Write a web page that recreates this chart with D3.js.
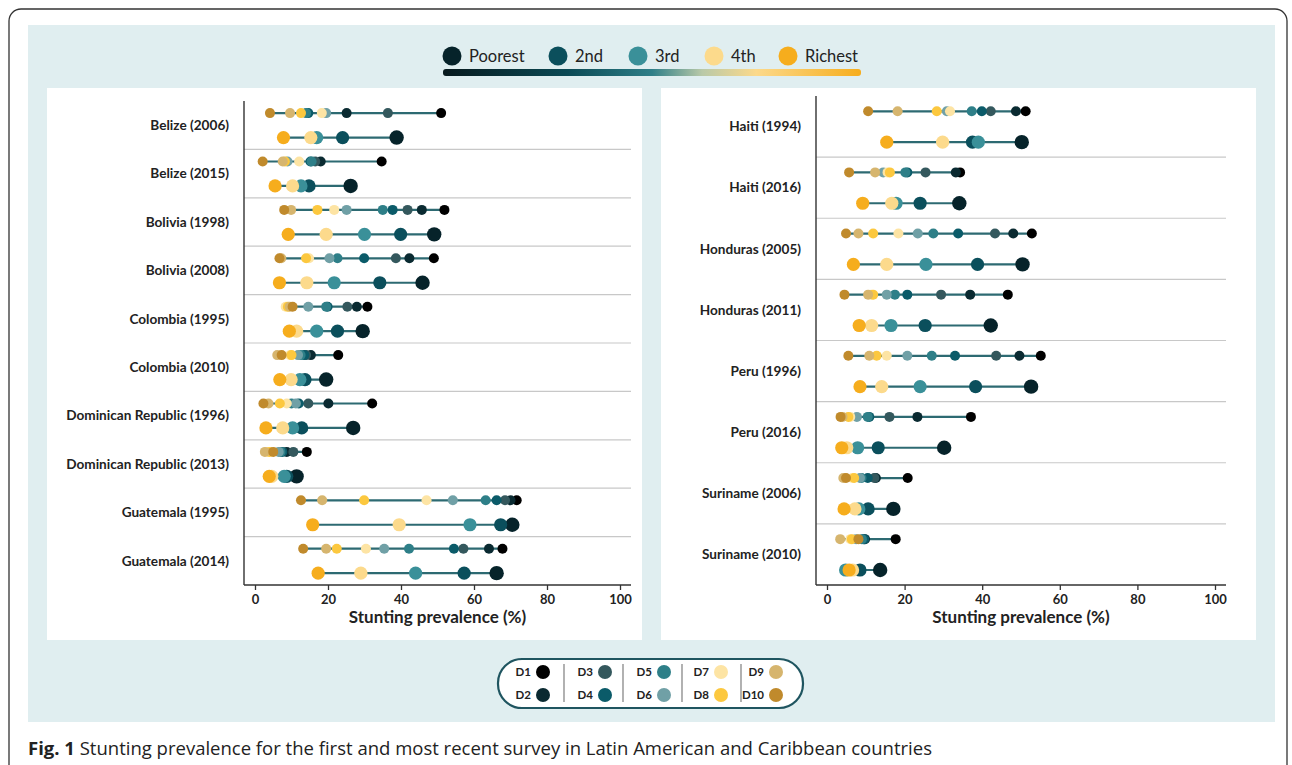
<!DOCTYPE html>
<html>
<head>
<meta charset="utf-8">
<script src="https://cdn.jsdelivr.net/npm/d3@7"></script>
<style>
  html, body { margin: 0; padding: 0; background: #ffffff; }
  svg { display: block; }
</style>
</head>
<body>
<svg id="chart" width="1292" height="765"></svg>
<script>
// ---------------- DATA ----------------
const leftSurveys = ["Belize (2006)", "Belize (2015)", "Bolivia (1998)", "Bolivia (2008)", "Colombia (1995)",
  "Colombia (2010)", "Dominican Republic (1996)", "Dominican Republic (2013)", "Guatemala (1995)", "Guatemala (2014)"];
// deciles D1 (poorest) .. D10 (richest)
const leftDeciles = [
  [51.0, 25.1, 36.4, 14.6, 14.0, 19.5, 18.3, 12.6, 9.6, 4.1],
  [34.7, 18.0, 16.5, 15.2, 15.5, 8.9, 12.1, 8.2, 7.6, 2.1],
  [51.9, 45.7, 41.8, 37.7, 35.0, 25.1, 21.7, 17.1, 9.9, 8.0],
  [49.0, 42.3, 38.6, 29.9, 22.6, 20.4, 14.8, 14.0, 7.2, 6.7],
  [30.8, 27.9, 25.3, 19.9, 19.5, 14.6, 8.4, 9.0, 9.5, 10.3],
  [22.8, 15.3, 14.0, 13.5, 12.5, 11.8, 9.6, 10.0, 6.1, 7.3],
  [32.1, 20.1, 14.6, 12.0, 10.0, 11.2, 8.7, 6.8, 3.7, 2.3],
  [14.2, 8.7, 10.5, 7.5, 7.0, 6.5, 3.5, 4.0, 2.7, 5.0],
  [71.7, 70.0, 68.5, 66.2, 63.2, 54.2, 47.0, 29.9, 18.4, 12.6],
  [67.8, 64.1, 57.1, 54.5, 42.2, 35.4, 30.4, 22.4, 19.5, 13.2]
];
// quintiles Poorest, 2nd, 3rd, 4th, Richest
const leftQuintiles = [
  [38.8, 24.0, 16.9, 15.3, 7.8],
  [26.2, 14.8, 12.6, 10.3, 5.5],
  [49.1, 39.9, 30.0, 19.5, 9.1],
  [45.9, 34.2, 21.7, 14.2, 6.7],
  [29.5, 22.6, 16.9, 11.4, 9.4],
  [19.5, 13.7, 12.3, 9.9, 6.8],
  [26.9, 12.8, 10.3, 7.6, 3.0],
  [11.4, 8.7, 8.0, 4.6, 3.9],
  [70.5, 67.3, 58.9, 39.5, 15.8],
  [66.2, 57.3, 44.0, 29.0, 17.3]
];

const rightSurveys = ["Haiti (1994)", "Haiti (2016)", "Honduras (2005)", "Honduras (2011)", "Peru (1996)",
  "Peru (2016)", "Suriname (2006)", "Suriname (2010)"];
const rightDeciles = [
  [51.2, 48.7, 42.2, 39.9, 37.3, 30.9, 31.7, 28.3, 18.2, 10.6],
  [34.3, 33.2, 25.4, 20.7, 20.2, 14.5, 15.6, 16.2, 12.4, 5.7],
  [52.8, 48.0, 43.3, 33.8, 27.4, 23.4, 18.4, 11.9, 8.1, 4.9],
  [46.6, 36.9, 29.4, 20.7, 17.5, 15.4, 11.4, 11.9, 10.6, 4.5],
  [55.1, 49.6, 43.6, 33.0, 27.0, 20.7, 15.4, 12.8, 10.9, 5.5],
  [37.1, 23.3, 16.1, 10.9, 10.5, 7.7, 6.0, 5.5, 4.0, 3.5],
  [20.8, 12.6, 12.2, 10.5, 8.9, 8.5, 6.5, 7.0, 4.2, 4.9],
  [17.7, 9.8, 9.4, 9.6, 9.0, 7.5, 6.0, 6.4, 3.4, 8.1]
];
const rightQuintiles = [
  [50.2, 37.5, 39.0, 29.8, 15.4],
  [34.1, 24.0, 17.8, 16.7, 9.2],
  [50.4, 38.8, 25.5, 15.4, 6.8],
  [42.2, 25.3, 16.5, 11.5, 8.3],
  [52.6, 38.3, 24.0, 14.1, 8.5],
  [30.2, 13.2, 7.9, 5.1, 3.8],
  [17.1, 10.6, 8.2, 7.2, 4.4],
  [13.7, 8.5, 4.8, 6.6, 5.7]
];

const quintileNames = ["Poorest", "2nd", "3rd", "4th", "Richest"];
const quintileColors = ["#06232a", "#0b4f5c", "#3a9099", "#fcda8c", "#f6ad1d"];
const decileNames = ["D1", "D2", "D3", "D4", "D5", "D6", "D7", "D8", "D9", "D10"];
const decileColors = ["#000000", "#0a2a31", "#34585d", "#0b5b69", "#2e7f88", "#70a0a6",
  "#fde4a4", "#fcc83f", "#d6b56e", "#c08a2c"];
const xTicks = [0, 20, 40, 60, 80, 100];
const axisTitle = "Stunting prevalence (%)";
const captionBold = "Fig. 1";
const captionText = " Stunting prevalence for the first and most recent survey in Latin American and Caribbean countries";

// ---------------- DRAW ----------------
const svg = d3.select("#chart");
const labelFont = "Lato, 'Open Sans', sans-serif";

// outer frame
svg.append("rect").attr("x", 9).attr("y", 9).attr("width", 1278).attr("height", 775)
  .attr("rx", 12).attr("fill", "#ffffff").attr("stroke", "#333").attr("stroke-width", 1.3);
// light blue background
svg.append("rect").attr("x", 28).attr("y", 25).attr("width", 1247).attr("height", 697)
  .attr("fill", "#e0eef0");

// top legend
const defs = svg.append("defs");
const grad = defs.append("linearGradient").attr("id", "qgrad").attr("x1", "0%").attr("x2", "100%");
[["0%", "#07191d"], ["30%", "#0b4a55"], ["50%", "#2f7f88"], ["62%", "#b9c9a8"], ["75%", "#fcd98a"], ["100%", "#f6ad1d"]]
  .forEach(([o, c]) => grad.append("stop").attr("offset", o).attr("stop-color", c));
svg.append("rect").attr("x", 443).attr("y", 69).attr("width", 418).attr("height", 7)
  .attr("rx", 3).attr("fill", "url(#qgrad)");
const legX = [452, 558, 638, 714, 788];
const tl = svg.append("g");
quintileNames.forEach((n, i) => {
  tl.append("circle").attr("cx", legX[i]).attr("cy", 56).attr("r", 9.5).attr("fill", quintileColors[i]);
  tl.append("text").attr("x", legX[i] + 17).attr("y", 56).attr("dy", "0.35em")
    .attr("font-family", labelFont).attr("font-size", 16.5).attr("fill", "#222").text(n);
});

function drawPanel(cfg) {
  const g = svg.append("g");
  g.append("rect").attr("x", cfg.box[0]).attr("y", 88).attr("width", cfg.box[1] - cfg.box[0]).attr("height", 552)
    .attr("fill", "#ffffff");
  const x = d3.scaleLinear().domain([0, 100]).range(cfg.xRange);
  const y = d3.scaleBand().domain(cfg.surveys).range([cfg.top, cfg.axisY]).padding(0);
  const bw = y.bandwidth();

  // separators
  g.selectAll("line.sep").data(cfg.surveys.slice(1)).join("line")
    .attr("x1", cfg.axisX).attr("x2", cfg.axisEnd)
    .attr("y1", d => y(d)).attr("y2", d => y(d))
    .attr("stroke", "#c8c8c8").attr("stroke-width", 1.2);

  // y axis line
  g.append("line").attr("x1", cfg.axisX).attr("x2", cfg.axisX).attr("y1", cfg.top).attr("y2", cfg.axisY)
    .attr("stroke", "#333").attr("stroke-width", 1.4);
  // x axis
  const ax = g.append("g").attr("transform", `translate(0,${cfg.axisY})`)
    .call(d3.axisBottom(x).tickValues(xTicks).tickSize(5).tickPadding(5));
  ax.select(".domain").remove();
  ax.selectAll(".tick line").attr("stroke", "#333").attr("stroke-width", 1.3);
  ax.selectAll(".tick text").attr("font-family", labelFont).attr("font-weight", "bold")
    .attr("font-size", 13).attr("fill", "#222");
  g.append("line").attr("x1", cfg.axisX).attr("x2", cfg.axisEnd).attr("y1", cfg.axisY).attr("y2", cfg.axisY)
    .attr("stroke", "#333").attr("stroke-width", 1.4);
  g.append("text").attr("x", (x(0) + x(100)) / 2).attr("y", 623)
    .attr("text-anchor", "middle").attr("font-family", labelFont).attr("font-weight", "bold")
    .attr("font-size", 17).attr("fill", "#222").text(axisTitle);

  // labels
  g.selectAll("text.lab").data(cfg.surveys).join("text")
    .attr("x", cfg.axisX - 15).attr("y", d => y(d) + bw / 2).attr("dy", "0.35em")
    .attr("text-anchor", "end").attr("font-family", labelFont).attr("font-weight", "bold")
    .attr("font-size", 13.6).attr("fill", "#222").text(d => d);

  cfg.surveys.forEach((s, i) => {
    const yd = y(s) + bw * 0.25;
    const yq = y(s) + bw * 0.755;
    const dv = cfg.deciles[i], qv = cfg.quintiles[i];
    g.append("line").attr("x1", x(d3.min(dv))).attr("x2", x(d3.max(dv))).attr("y1", yd).attr("y2", yd)
      .attr("stroke", "#2d6a72").attr("stroke-width", 2.2);
    g.append("line").attr("x1", x(d3.min(qv))).attr("x2", x(d3.max(qv))).attr("y1", yq).attr("y2", yq)
      .attr("stroke", "#2d6a72").attr("stroke-width", 2.2);
    dv.forEach((v, k) => {
      g.append("circle").attr("cx", x(v)).attr("cy", yd).attr("r", 5).attr("fill", decileColors[k]);
    });
    qv.forEach((v, k) => {
      g.append("circle").attr("cx", x(v)).attr("cy", yq).attr("r", k === 0 ? 7.2 : 6.6).attr("fill", quintileColors[k]);
    });
  });
}

drawPanel({ surveys: leftSurveys, deciles: leftDeciles, quintiles: leftQuintiles,
  box: [47, 642], xRange: [255, 620], axisX: 244, axisEnd: 631, top: 101, axisY: 585 });
drawPanel({ surveys: rightSurveys, deciles: rightDeciles, quintiles: rightQuintiles,
  box: [661, 1256], xRange: [827, 1215], axisX: 816, axisEnd: 1226, top: 96, axisY: 585 });

// bottom decile legend
const bl = svg.append("g");
bl.append("rect").attr("x", 498).attr("y", 659).attr("width", 305).attr("height", 49).attr("rx", 24)
  .attr("fill", "#ffffff").attr("stroke", "#1f5560").attr("stroke-width", 2.2);
const colCircleX = [543, 605, 664, 721, 776];
const sepX = [564, 623, 682, 741];
sepX.forEach(sx => bl.append("line").attr("x1", sx).attr("x2", sx).attr("y1", 664).attr("y2", 702)
  .attr("stroke", "#888").attr("stroke-width", 1.3));
decileNames.forEach((n, k) => {
  const col = Math.floor(k / 2), row = k % 2;
  const cy = row === 0 ? 672 : 695;
  bl.append("circle").attr("cx", colCircleX[col]).attr("cy", cy).attr("r", 7).attr("fill", decileColors[k]);
  bl.append("text").attr("x", colCircleX[col] - 12).attr("y", cy).attr("dy", "0.35em")
    .attr("text-anchor", "end").attr("font-family", labelFont).attr("font-weight", "bold")
    .attr("font-size", 11.5).attr("fill", "#222").text(n);
});

// caption
const cap = svg.append("text").attr("x", 28).attr("y", 755)
  .attr("font-family", "'Open Sans', 'Noto Sans', sans-serif").attr("font-size", 18.5).attr("fill", "#222");
cap.append("tspan").attr("font-weight", "bold").text(captionBold);
cap.append("tspan").text(captionText);
</script>
</body>
</html>
